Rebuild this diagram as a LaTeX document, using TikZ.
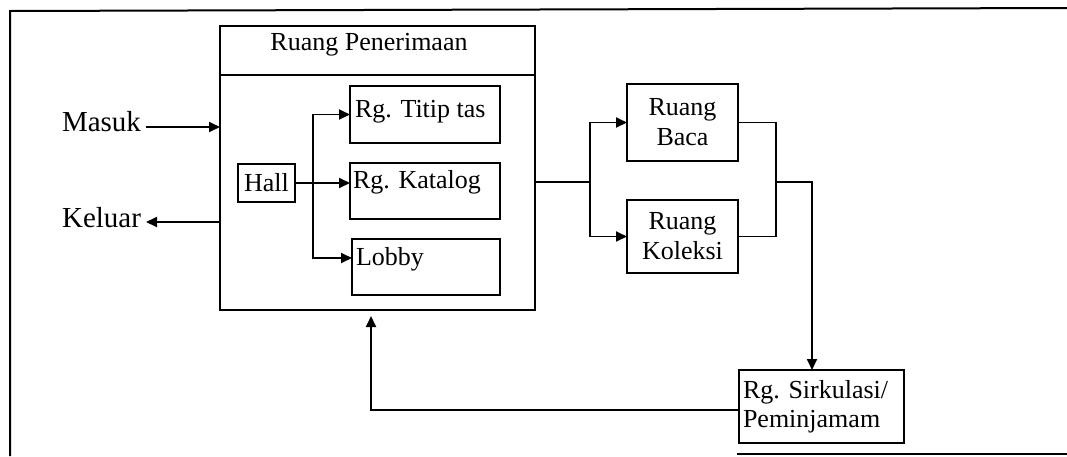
\documentclass[tikz,border=0pt]{standalone}
\usepackage{fontspec}
\setmainfont{Liberation Serif}
\usetikzlibrary{arrows.meta,calc}
\begin{document}
\begin{tikzpicture}[x=1pt,y=-1pt,
  every node/.style={font=\fontsize{26}{30}\selectfont},
  box/.style={draw, line width=1.8pt, inner sep=0pt, outer sep=0pt},
  lbl/.style={inner sep=0pt, outer sep=0pt},
  link/.style={line width=1.8pt},
  arr/.style={line width=1.8pt, -{Triangle[length=11pt,width=10pt]}},
  big/.style={font=\fontsize{29}{32}\selectfont}]
\useasboundingbox (0,0) rectangle (1067,456);

% page frame
\draw[line width=2pt] (10,456) -- (10,11) -- (1067,8);
\draw[line width=1.6pt] (737,454) -- (1067,454);

% reception block
\node[box, minimum width=315, minimum height=284] (rp) at (377.5,168) {};
\node[box, minimum width=315, minimum height=49] (rph) at (377.5,50.5) {};
\node[lbl, anchor=base] (rpt) at (369,50) {Ruang Penerimaan};

\node[box, minimum width=150, minimum height=57] (titip) at (425,114.5) {};
\node[lbl, anchor=base west] (titipt) at (355,117) {Rg. Titip tas};
\node[box, minimum width=150, minimum height=56] (katalog) at (425,191) {};
\node[lbl, anchor=base west] (katalogt) at (353,188) {Rg. Katalog};
\node[box, minimum width=148, minimum height=56] (lobby) at (426,267) {};
\node[lbl, anchor=base west] (lobbyt) at (356,265) {Lobby};
\node[box, minimum width=57, minimum height=38] (hall) at (266.5,183) {Hall};

% entry / exit
\node[lbl, big, anchor=base east] (masuk) at (141,131) {Masuk};
\node[lbl, big, anchor=base east] (keluar) at (141,227) {Keluar};
\coordinate (min) at (146,127);
\coordinate (mout) at (146,222);
\draw[arr] (min) -- (min -| rp.west);
\draw[arr] (mout -| rp.west) -- (mout);

% hall distribution
\coordinate (j1) at (313,183);
\draw[arr] (hall.east) -- (hall.east -| katalog.west);
\draw[arr] (j1) |- (titip.west);
\draw[arr] (j1) |- ([yshift=9]lobby.west);

% reading and collection rooms
\node[box, minimum width=111, minimum height=77, align=center] (baca) at (682.5,122.5) {Ruang\\Baca};
\node[box, minimum width=111, minimum height=73, align=center] (koleksi) at (682.5,236.5) {Ruang\\Koleksi};
\coordinate (j2) at (590,182);
\draw[link] (j2 -| rp.east) -- (j2);
\draw[arr] (j2) |- (baca.west);
\draw[arr] (j2) |- (koleksi.west);

% circulation desk
\node[box, minimum width=165, minimum height=73] (sirk) at (821.5,406.5) {};
\node[lbl, anchor=base west] (sirkt) at (743,398) {Rg. Sirkulasi/};
\node[lbl, anchor=base west] (sirkt2) at (743,427) {Peminjamam};
\coordinate (j3) at (776,182);
\coordinate (j4) at (812,182);
\draw[link] (baca.east) -| (j3) |- (koleksi.east);
\draw[arr] (j3) -- (j4) -- (j4 |- sirk.north);

% return path
\coordinate (j5) at (371,410);
\draw[arr, shorten >=6pt] (j5 -| sirk.west) -- (j5) -- (j5 |- rp.south);
\end{tikzpicture}
\end{document}
